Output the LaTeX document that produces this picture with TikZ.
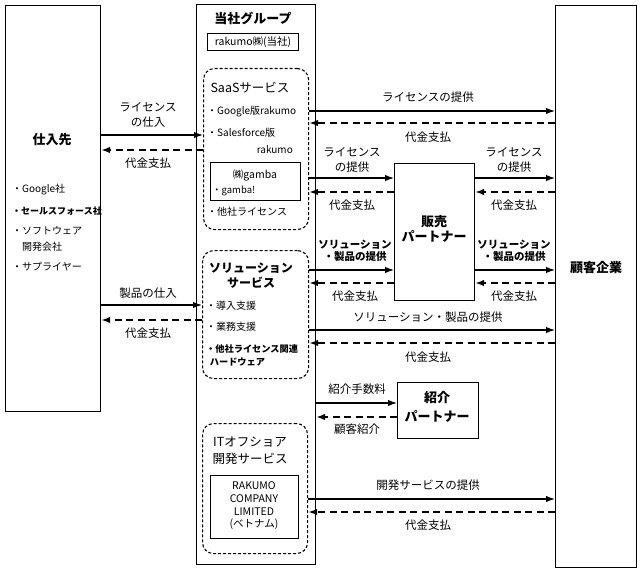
\documentclass[tikz,border=0pt]{standalone}
\usepackage{fontspec}
\setmainfont{Noto Sans CJK JP}
\usetikzlibrary{arrows.meta}
\begin{document}
\begin{tikzpicture}[x=1pt,y=-1pt,
  box/.style={draw,line width=1.1pt,inner sep=0pt,anchor=north west},
  svc/.style={draw,line width=1.1pt,dash pattern=on 3pt off 2pt,rounded corners=11pt,inner sep=0pt,anchor=north west},
  solarrow/.style={line width=1.3pt,-{Latex[length=9pt,width=6.5pt]}},
  dsharrow/.style={line width=1.7pt,dash pattern=on 7pt off 4.5pt,-{Latex[length=9pt,width=6.5pt]}},
  lbl/.style={inner sep=0pt,align=center,font=\fontsize{11.5}{15}\selectfont},
  slbl/.style={inner sep=0pt,align=center,font=\fontsize{10.5}{12.5}\selectfont},
  item/.style={inner sep=0pt,anchor=west,font=\fontsize{10}{16}\selectfont,align=left},
  ttl/.style={inner sep=0pt,align=center,font=\fontsize{13}{15}\selectfont\bfseries},
  stl/.style={inner sep=0pt,align=center,font=\fontsize{12.5}{17}\selectfont}]
\useasboundingbox (0,0) rectangle (643,575);
% main boxes
\node[box,minimum width=95pt,minimum height=406pt] (sup) at (5,5) {};
\node[box,minimum width=119pt,minimum height=560pt] (grp) at (196,4) {};
\node[box,minimum width=81pt,minimum height=562pt] (cust) at (555,5) {};
\node[box,minimum width=91pt,minimum height=17pt] (rak) at (207,33) {};
\node[svc,minimum width=105pt,minimum height=161pt] (saas) at (203,68) {};
\node[box,minimum width=90pt,minimum height=38pt] (gamba) at (210,162) {};
\node[svc,minimum width=106pt,minimum height=128pt] (sol) at (202,250) {};
\node[svc,minimum width=105pt,minimum height=130pt] (it) at (202,423) {};
\node[box,minimum width=88pt,minimum height=63pt] (vn) at (210,475) {};
\node[box,minimum width=80pt,minimum height=137pt] (hanbai) at (394,163) {};
\node[box,minimum width=81pt,minimum height=56pt] (shokai) at (397,382) {};
% titles
\node[ttl] (tsup) at (52,140) {仕入先};
\node[ttl] (tgrp) at (253,18) {当社グループ};
\node[ttl] (tcust) at (596,268) {顧客企業};
\node[inner sep=0pt,font=\fontsize{10.5}{12}\selectfont] (trak) at (rak.center) {rakumo㈱(当社)};
\node[stl] (tsaas) at (250,88) {SaaSサービス};
\node[inner sep=0pt,align=center,font=\fontsize{12}{15}\selectfont\bfseries] (tsol) at (251,276) {ソリューション\\サービス};
\node[stl] (tit) at (250,451) {ITオフショア\\開発サービス};
\node[inner sep=0pt,align=center,font=\fontsize{10.5}{12.7}\selectfont] (tvn) at (254,506) {RAKUMO\\COMPANY\\LIMITED\\(ベトナム)};
\node[inner sep=0pt,align=center,font=\fontsize{13}{14.5}\selectfont\bfseries] (thanbai) at (434,229) {販売\\パートナー};
\node[inner sep=0pt,align=center,font=\fontsize{13}{19}\selectfont\bfseries] (tshokai) at (437,407) {紹介\\パートナー};
% supplier items
\node[item] (s1) at (12,190) {・Google社};
\node[item,font=\fontsize{9}{11}\selectfont\bfseries] (s2) at (12,211) {・セールスフォース社};
\node[item] (s3) at (12,239) {・ソフトウェア\\\hspace*{1em}開発会社};
\node[item] (s4) at (12,267) {・サプライヤー};
% saas items
\node[item] (a1) at (207,112) {・Google版rakumo};
\node[item] (a2) at (207,133) {・Salesforce版};
\node[inner sep=0pt,anchor=east,font=\fontsize{10}{12}\selectfont] (a3) at (293,150) {rakumo};
\node[inner sep=0pt,font=\fontsize{10.5}{12}\selectfont] (g1) at (255,175) {㈱gamba};
\node[item,font=\fontsize{9.5}{12}\selectfont] (g2) at (212,191) {・gamba!};
\node[item] (a4) at (207,212) {・他社ライセンス};
% solution items
\node[item] (b1) at (206,306) {・導入支援};
\node[item] (b2) at (206,327) {・業務支援};
\node[item,font=\fontsize{9.2}{13}\selectfont\bfseries,align=left] (b3) at (206,355) {・他社ライセンス関連\\\hspace*{0.4em}ハードウェア};
% left arrows
\draw[solarrow] (sup.east |- 0,135) -- (saas.west |- 0,135);
\draw[dsharrow] (saas.west |- 0,150) -- (sup.east |- 0,150);
\node[lbl] (l1) at (148,115) {ライセンス\\の仕入};
\node[lbl] (l2) at (148,163) {代金支払};
\draw[solarrow] (sup.east |- 0,305) -- (sol.west |- 0,305);
\draw[dsharrow] (sol.west |- 0,320) -- (sup.east |- 0,320);
\node[lbl] (l3) at (148,293) {製品の仕入};
\node[lbl] (l4) at (148,333) {代金支払};
% saas to customer
\draw[solarrow] (saas.east |- 0,111) -- (cust.west |- 0,111);
\draw[dsharrow] (cust.west |- 0,123) -- (saas.east |- 0,123);
\node[lbl] (r1) at (428,97) {ライセンスの提供};
\node[lbl] (r2) at (428,137) {代金支払};
% saas to sales partner
\draw[solarrow] (saas.east |- 0,178) -- (hanbai.west |- 0,178);
\draw[dsharrow] (hanbai.west |- 0,192) -- (saas.east |- 0,192);
\node[lbl] (r3) at (352,159.5) {ライセンス\\の提供};
\node[lbl] (r4) at (352,205) {代金支払};
\draw[solarrow] (hanbai.east |- 0,178) -- (cust.west |- 0,178);
\draw[dsharrow] (cust.west |- 0,192) -- (hanbai.east |- 0,192);
\node[lbl] (r5) at (514,159.5) {ライセンス\\の提供};
\node[lbl] (r6) at (514,205) {代金支払};
% solution to sales partner
\draw[solarrow] (sol.east |- 0,270) -- (hanbai.west |- 0,270);
\draw[dsharrow] (hanbai.west |- 0,283) -- (sol.east |- 0,283);
\node[slbl,font=\fontsize{10.5}{12.5}\selectfont\bfseries] (r7) at (355,251) {ソリューション\\・製品の提供};
\node[lbl] (r8) at (355,296) {代金支払};
\draw[solarrow] (hanbai.east |- 0,270) -- (cust.west |- 0,270);
\draw[dsharrow] (cust.west |- 0,283) -- (hanbai.east |- 0,283);
\node[slbl,font=\fontsize{10.5}{12.5}\selectfont\bfseries] (r9) at (514,251) {ソリューション\\・製品の提供};
\node[lbl] (r10) at (514,296) {代金支払};
% solution to customer
\draw[solarrow] (sol.east |- 0,330) -- (cust.west |- 0,330);
\draw[dsharrow] (cust.west |- 0,343) -- (sol.east |- 0,343);
\node[lbl] (r11) at (428,317) {ソリューション・製品の提供};
\node[lbl] (r12) at (428,357) {代金支払};
% referral partner
\draw[solarrow] (grp.east |- 0,403) -- (shokai.west |- 0,403);
\draw[dsharrow] (shokai.west |- 0,417) -- (grp.east |- 0,417);
\node[lbl] (r13) at (357,389) {紹介手数料};
\node[lbl] (r14) at (357,429) {顧客紹介};
% IT offshore to customer
\draw[solarrow] (it.east |- 0,499) -- (cust.west |- 0,499);
\draw[dsharrow] (cust.west |- 0,512) -- (it.east |- 0,512);
\node[lbl] (r15) at (428,485) {開発サービスの提供};
\node[lbl] (r16) at (428,525) {代金支払};
\end{tikzpicture}
\end{document}
